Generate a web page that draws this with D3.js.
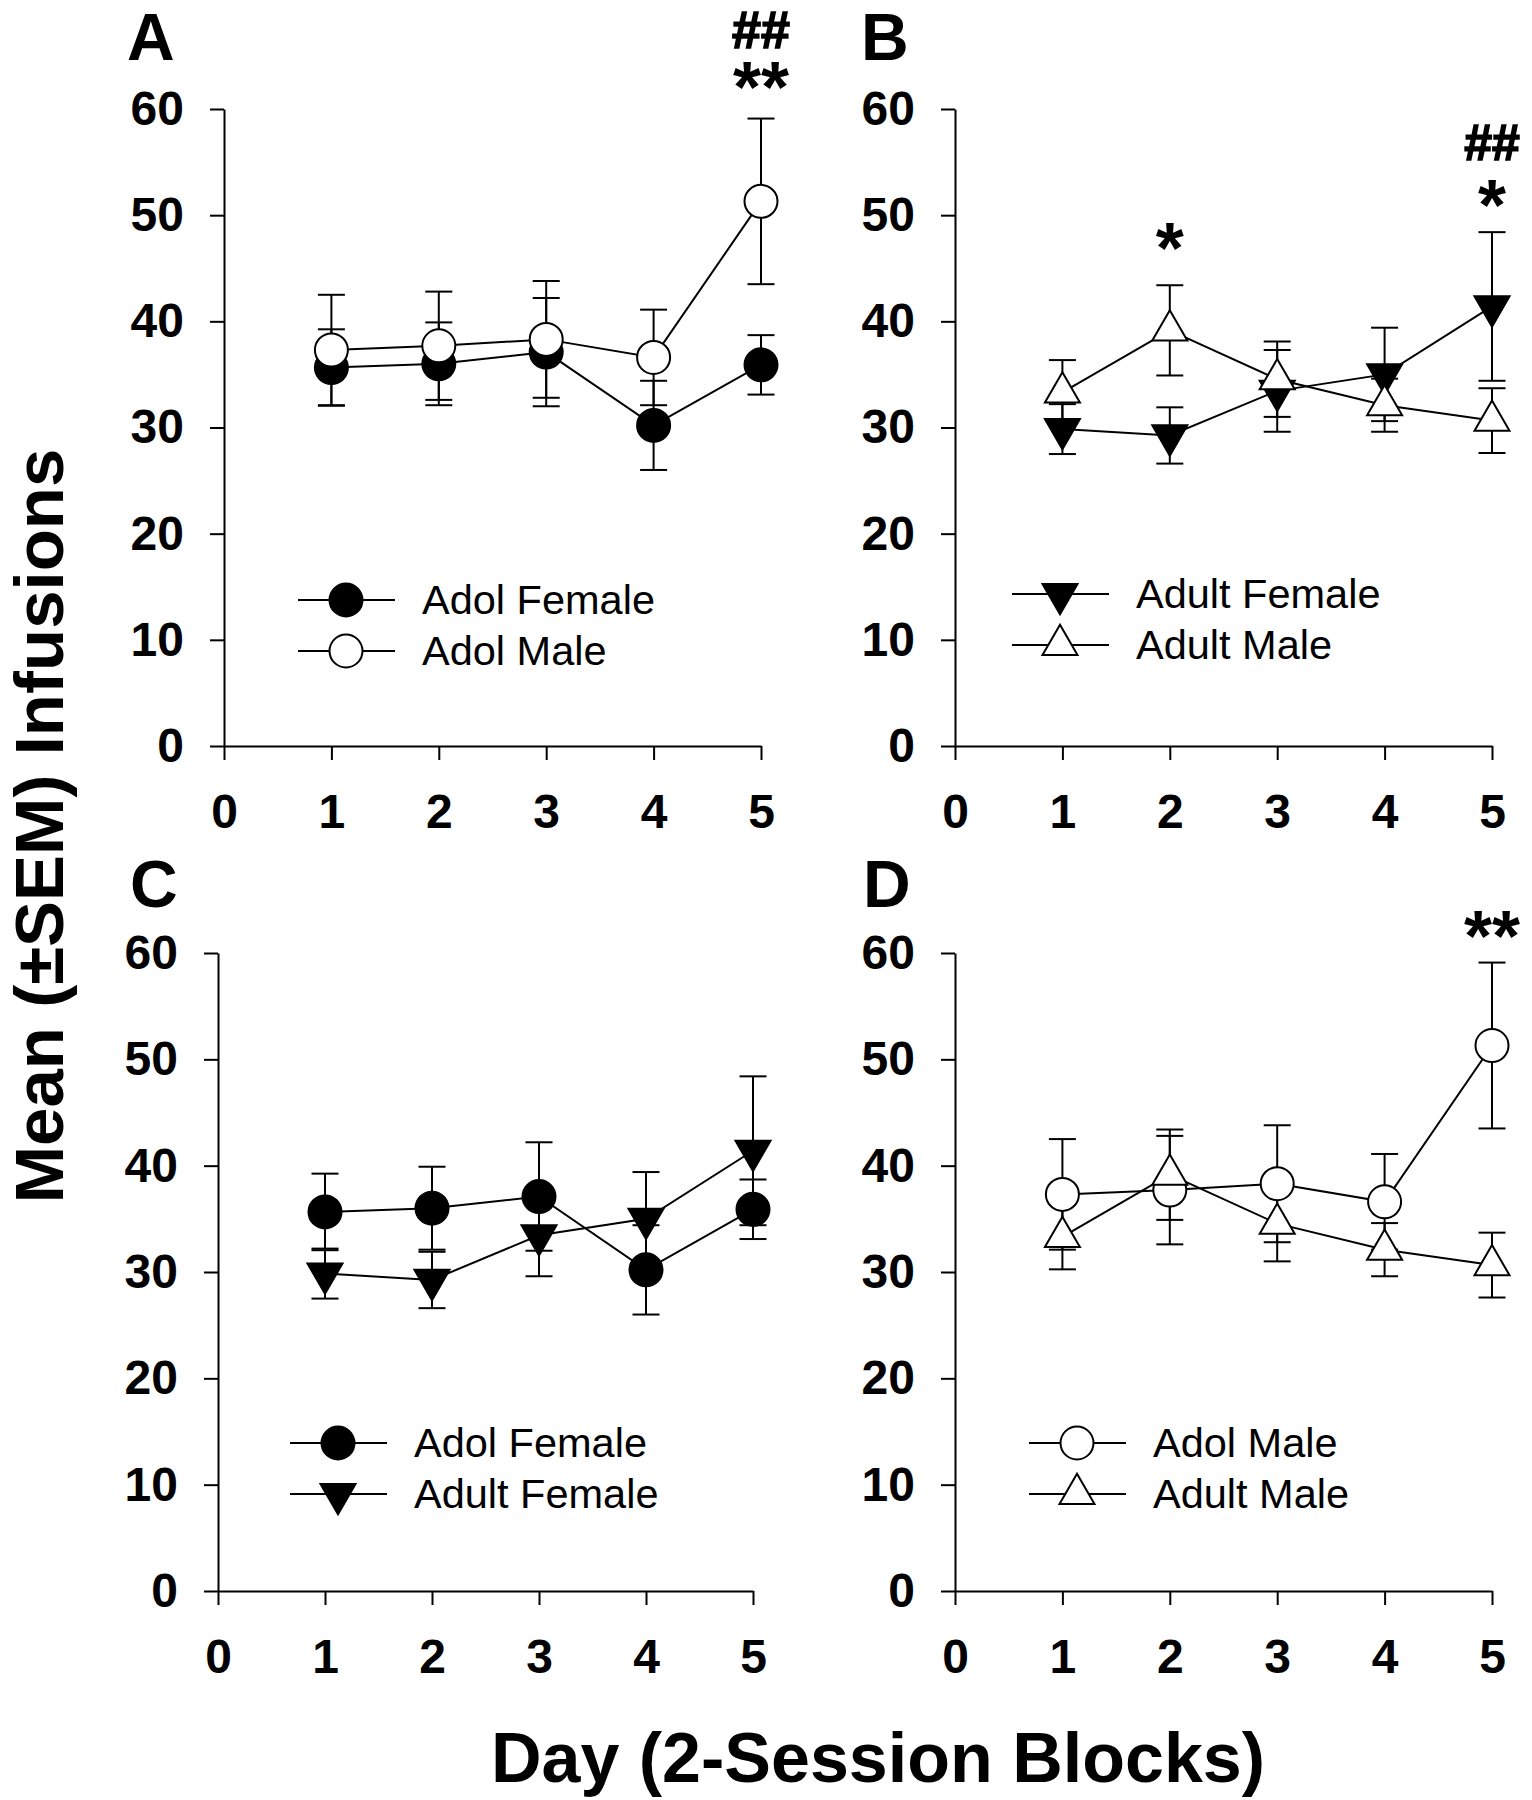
<!DOCTYPE html>
<html><head><meta charset="utf-8">
<script src="https://cdn.jsdelivr.net/npm/d3@7"></script>
<style>body{margin:0;background:#fff} svg{display:block;font-family:"Liberation Sans",Arial,sans-serif}</style>
</head><body><svg id="c" width="1532" height="1800"></svg>
<script>
// ---- data ----
const days = [1, 2, 3, 4, 5];
const xTicks = [0, 1, 2, 3, 4, 5];
const yTicks = [0, 10, 20, 30, 40, 50, 60];
const adolFemaleMean = [35.65, 36.0, 37.1, 30.2, 35.9];
const adolFemaleSEM  = [3.6, 3.9, 5.1, 4.2, 2.8];
const adolMaleMean   = [37.3, 37.7, 38.3, 36.6, 51.3];
const adolMaleSEM    = [5.2, 5.1, 5.5, 4.5, 7.8];
const adultFemaleMean = [29.85, 29.25, 33.45, 35.0, 41.4];
const adultFemaleSEM  = [2.35, 2.65, 3.85, 4.4, 7.0];
const adultMaleMean   = [33.3, 39.15, 34.55, 32.1, 30.65];
const adultMaleSEM    = [3.05, 4.25, 3.55, 2.5, 3.05];
const seriesNames = {af: "Adol Female", am: "Adol Male", tf: "Adult Female", tm: "Adult Male"};
const xTitle = "Day (2-Session Blocks)";
const yTitle = "Mean (±SEM) Infusions";

const series = {
  af: {name: seriesNames.af, mean: adolFemaleMean, sem: adolFemaleSEM, shape: "circle", fill: "#000"},
  am: {name: seriesNames.am, mean: adolMaleMean, sem: adolMaleSEM, shape: "circle", fill: "#fff"},
  tf: {name: seriesNames.tf, mean: adultFemaleMean, sem: adultFemaleSEM, shape: "down", fill: "#000"},
  tm: {name: seriesNames.tm, mean: adultMaleMean, sem: adultMaleSEM, shape: "up", fill: "#fff"}
};

// significance marks: each note is one text; each line's y is its baseline value
const panels = [
  {label: "A", labX: 127, labY: 60, keys: ["af", "am"], x0: 224, x1: 761, yTop: 109, yBot: 746, legX: 298, legY: 600,
   notes: [{day: 5, lines: [{t: "##", fs: 52, y: 65.75}, {t: "**", fs: 72, y: 59.75}]}]},
  {label: "B", labX: 861, labY: 60, keys: ["tf", "tm"], x0: 955, x1: 1492, yTop: 109, yBot: 746, legX: 1012, legY: 594,
   notes: [{day: 2, lines: [{t: "*", fs: 72, y: 44.57}]},
           {day: 5, lines: [{t: "##", fs: 50, y: 55.2}, {t: "*", fs: 72, y: 48.64}]}]},
  {label: "C", labX: 130, labY: 907, keys: ["af", "tf"], x0: 218, x1: 753, yTop: 953, yBot: 1591, legX: 290, legY: 1443,
   notes: []},
  {label: "D", labX: 863, labY: 907, keys: ["am", "tm"], x0: 955, x1: 1492, yTop: 953, yBot: 1591, legX: 1029, legY: 1443,
   notes: [{day: 5, lines: [{t: "**", fs: 72, y: 59.25}]}]}
];

const svg = d3.select("#c");
const R = 16.5, TRI = 35, CAP = 13.5;

function marker(g, shape, fill, cx, cy) {
  if (shape === "circle") {
    g.append("circle").attr("cx", cx).attr("cy", cy).attr("r", R)
      .attr("fill", fill).attr("stroke", "#000").attr("stroke-width", 2);
  } else {
    const h = TRI * Math.sqrt(3) / 2;
    const s = shape === "up" ? 1 : -1;
    const pts = [[cx, cy - s * 2 * h / 3], [cx - TRI / 2, cy + s * h / 3], [cx + TRI / 2, cy + s * h / 3]];
    g.append("path").attr("d", d3.line()(pts) + "Z")
      .attr("fill", fill).attr("stroke", "#000").attr("stroke-width", 2);
  }
}

panels.forEach(p => {
  const x = d3.scaleLinear().domain([0, 5]).range([p.x0, p.x1]);
  const y = d3.scaleLinear().domain([0, 60]).range([p.yBot, p.yTop]);
  const g = svg.append("g");

  const ya = g.append("g").attr("transform", `translate(${p.x0},0)`)
    .call(d3.axisLeft(y).tickValues(yTicks).tickFormat(d3.format("d")).tickSize(14).tickSizeOuter(0).tickPadding(26));
  const xa = g.append("g").attr("transform", `translate(0,${p.yBot})`)
    .call(d3.axisBottom(x).tickValues(xTicks).tickFormat(d3.format("d")).tickSize(14).tickSizeOuter(0).tickPadding(34));
  [ya, xa].forEach(a => {
    a.selectAll("path,line").attr("stroke", "#000").attr("stroke-width", 2);
    a.selectAll("text").attr("fill", "#000").attr("font-size", 48).attr("font-weight", "bold")
      .attr("font-family", '"Liberation Sans",Arial,sans-serif');
  });

  g.append("text").attr("x", p.labX).attr("y", p.labY).text(p.label)
    .attr("font-size", 66).attr("font-weight", "bold");

  p.keys.forEach(k => {
    const s = series[k];
    const pts = days.map((d, i) => [x(d), y(s.mean[i])]);
    g.append("path").attr("d", d3.line()(pts)).attr("fill", "none")
      .attr("stroke", "#000").attr("stroke-width", 2);
    days.forEach((d, i) => {
      const hi = y(s.mean[i] + s.sem[i]), lo = y(s.mean[i] - s.sem[i]), cx = x(d);
      g.append("line").attr("x1", cx).attr("x2", cx).attr("y1", hi).attr("y2", lo)
        .attr("stroke", "#000").attr("stroke-width", 2);
      [hi, lo].forEach(yy => g.append("line").attr("x1", cx - CAP).attr("x2", cx + CAP)
        .attr("y1", yy).attr("y2", yy).attr("stroke", "#000").attr("stroke-width", 2));
    });
  });
  p.keys.forEach(k => {
    const s = series[k];
    days.forEach((d, i) => marker(g, s.shape, s.fill, x(d), y(s.mean[i])));
  });

  // legend
  p.keys.forEach((k, j) => {
    const s = series[k];
    const ly = p.legY + j * 51;
    g.append("line").attr("x1", p.legX).attr("x2", p.legX + 97).attr("y1", ly).attr("y2", ly)
      .attr("stroke", "#000").attr("stroke-width", 2);
    marker(g, s.shape, s.fill, p.legX + 48, ly);
    g.append("text").attr("x", p.legX + 124).attr("y", ly + 14)
      .text(s.name).attr("font-size", 41.5);
  });

  p.notes.forEach(n => {
    const t = g.append("text").attr("text-anchor", "middle").attr("font-weight", "bold");
    n.lines.forEach(l => {
      const ts = t.append("tspan").attr("x", x(n.day)).attr("y", y(l.y))
        .attr("font-size", l.fs).text(l.t);
      if (l.t.indexOf("#") >= 0) ts.attr("stroke", "#000").attr("stroke-width", 1.6);
    });
  });
});

svg.append("text").attr("x", 878).attr("y", 1782).attr("text-anchor", "middle")
  .attr("font-size", 70).attr("font-weight", "bold").text(xTitle);
svg.append("text").attr("transform", "translate(63,826) rotate(-90)").attr("text-anchor", "middle")
  .attr("font-size", 69).attr("font-weight", "bold").text(yTitle);
</script></body></html>
